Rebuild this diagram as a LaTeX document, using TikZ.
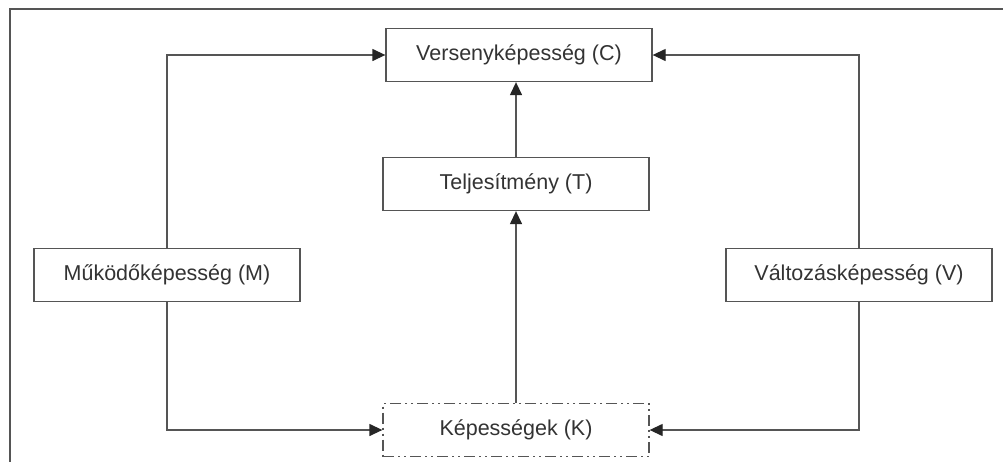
\documentclass[tikz,border=0pt]{standalone}
\usepackage{fontspec}
\setmainfont{Liberation Sans}
\usetikzlibrary{arrows.meta}
\definecolor{ln}{HTML}{555555}
\definecolor{tx}{HTML}{333333}
\tikzset{
  box/.style={draw=ln, line width=1.3pt, minimum width=266pt, minimum height=53pt, inner sep=0pt, text=tx, font=\fontsize{21.5}{24}\selectfont, fill=white},
  dbox/.style={box, dash pattern=on 11pt off 4pt on 2pt off 4pt on 2pt off 4pt},
  conn/.style={draw=ln, line width=1.3pt, -{Triangle[length=13pt,width=12pt,color=black!85]}},
}
\begin{document}
\begin{tikzpicture}[x=1pt,y=-1pt]
\useasboundingbox (0,0) rectangle (1003,461);
\fill[white] (0,0) rectangle (1003,461);
\draw[ln, line width=2pt] (10,470) -- (10,8.5) -- (1010,8.5);
\node[box] (C) at (519,55) {Versenyképesség (C)};
\node[box] (T) at (516,184) {Teljesítmény (T)};
\node[box] (M) at (167,275) {Működőképesség (M)};
\node[box] (V) at (859,275) {Változásképesség (V)};
\node[dbox] (K) at (516,430) {Képességek (K)};
\draw[conn] (T.north) -- (T.north |- C.south);
\draw[conn] (K.north) -- (T.south);
\draw[conn] (M.north) |- (C.west);
\draw[conn] (M.south) |- (K.west);
\draw[conn] (V.north) |- (C.east);
\draw[conn] (V.south) |- (K.east);
\end{tikzpicture}
\end{document}
